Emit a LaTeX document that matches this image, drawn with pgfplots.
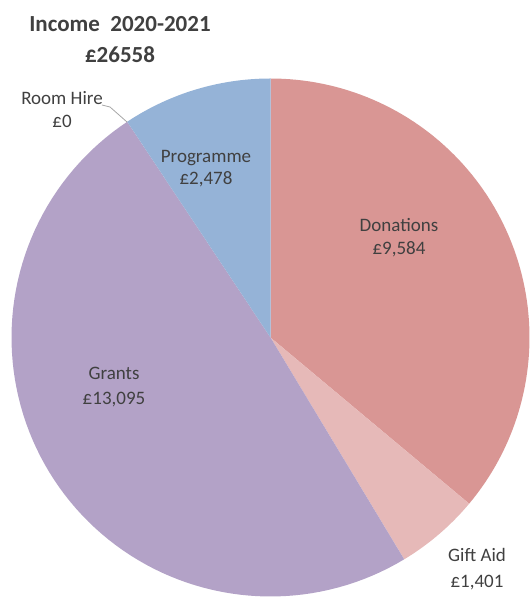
\documentclass[border=0pt]{standalone}
\usepackage{pgfplots}
\pgfplotsset{compat=1.18}
\usepackage{fontspec}
\setmainfont{Carlito}

\definecolor{txt}{HTML}{404040}
\definecolor{cDon}{HTML}{D99694}
\definecolor{cGift}{HTML}{E6B9B8}
\definecolor{cGrant}{HTML}{B3A2C7}
\definecolor{cProg}{HTML}{95B3D7}

% income values (GBP)
\def\vDon{9584}
\def\vGift{1401}
\def\vGrant{13095}
\def\vRoom{0}
\def\vProg{2478}
\def\vTot{26558}

% slice boundaries, clockwise from 12 o'clock
\edef\aA{90}
\edef\aB{\fpeval{\aA-360*\vDon/\vTot}}
\edef\aC{\fpeval{\aB-360*\vGift/\vTot}}
\edef\aD{\fpeval{\aC-360*\vGrant/\vTot}}
\edef\aE{\fpeval{\aD-360*\vRoom/\vTot}}
\edef\aF{\fpeval{\aE-360*\vProg/\vTot}}

\begin{document}
\begin{tikzpicture}
\def\cx{270.5}\def\cy{261.5}\def\R{259}
\begin{axis}[
  at={(0,0)}, anchor=south west,
  scale only axis, width=532bp, height=599bp,
  xmin=0, xmax=532, ymin=0, ymax=599,
  hide axis, clip=false,
  samples=90, variable=\t,
]
\addplot[fill=cDon, draw=none, domain=\aB:\aA] ({\cx+\R*cos(\t)},{\cy+\R*sin(\t)}) -- (axis cs:\cx,\cy) -- cycle;
\addplot[fill=cGift, draw=none, domain=\aC:\aB] ({\cx+\R*cos(\t)},{\cy+\R*sin(\t)}) -- (axis cs:\cx,\cy) -- cycle;
\addplot[fill=cGrant, draw=none, domain=\aD:\aC] ({\cx+\R*cos(\t)},{\cy+\R*sin(\t)}) -- (axis cs:\cx,\cy) -- cycle;
\addplot[fill=cProg, draw=none, domain=\aF:\aE] ({\cx+\R*cos(\t)},{\cy+\R*sin(\t)}) -- (axis cs:\cx,\cy) -- cycle;

% leader line for the empty slice
\draw[color=black!35, line width=0.8bp] (axis cs:102,494) -- (axis cs:110,492) -- (axis cs:127,477);

\begin{scope}[every node/.style={anchor=base, text=txt, inner sep=0pt, font=\fontsize{19bp}{22bp}\selectfont}]
\node at (axis cs:120,567) {\fontsize{23bp}{26bp}\selectfont\bfseries Income\ \ 2020-2021};
\node at (axis cs:120,536) {\fontsize{23bp}{26bp}\selectfont\bfseries £26558};
\node at (axis cs:62,494) {Room Hire};
\node at (axis cs:62,471) {£0};
\node at (axis cs:206,436) {Programme};
\node at (axis cs:206,414) {£2,478};
\node at (axis cs:399,367) {Donations};
\node at (axis cs:399,344) {£9,584};
\node at (axis cs:114,219) {Grants};
\node at (axis cs:114,194) {£13,095};
\node at (axis cs:477,37) {Gift Aid};
\node at (axis cs:477,12) {£1,401};
\end{scope}
\end{axis}
\pgfresetboundingbox
\path (0,0) rectangle (532bp,599bp);
\end{tikzpicture}
\end{document}
